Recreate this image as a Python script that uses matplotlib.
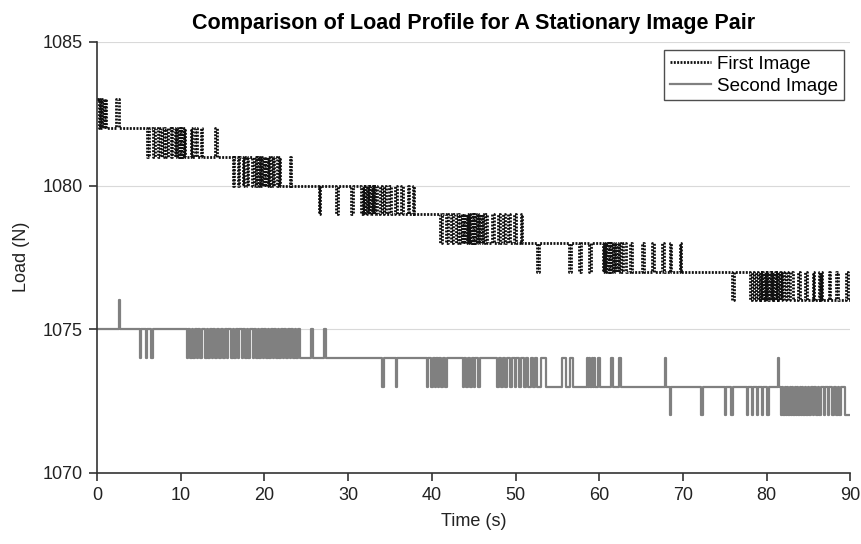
import matplotlib
matplotlib.use("Agg")
import matplotlib.pyplot as plt

# ---- Data: step change points (time in s, load in N) ----
first_t = [0, 0.2, 0.35, 0.5, 0.65, 0.8, 0.95, 1.1,
           2.3, 2.6,
           6.0, 6.25, 6.7, 6.95, 7.3, 7.5, 7.8, 8.0, 8.3, 8.5, 8.8, 9.0,
           9.3, 9.45, 9.6, 9.75, 9.9, 10.05, 10.2, 10.35, 10.5,
           11.2, 11.4, 11.7, 11.9, 12.4, 12.6, 14.1, 14.3,
           16.2, 16.4, 16.8, 17.0, 17.4, 17.6, 17.9, 18.1, 18.5, 18.7,
           19.0, 19.15, 19.3, 19.45, 19.6, 19.75, 19.9, 20.05, 20.2, 20.4,
           20.6, 20.8, 21.0, 21.2, 21.5, 21.7, 21.9,
           23.0, 23.2,
           26.5, 26.7, 28.6, 28.8, 30.4, 30.6,
           31.6, 31.75, 31.9, 32.05, 32.2, 32.35, 32.5, 32.65, 32.8, 32.95,
           33.1, 33.25, 33.4,
           33.8, 34.0, 34.3, 34.5, 34.9, 35.1, 35.6, 35.8, 36.3, 36.5,
           37.1, 37.3, 37.7, 37.9,
           41.0, 41.2, 41.7, 41.9, 42.3, 42.5, 42.9, 43.1, 43.4, 43.55,
           43.7, 43.85, 44.0, 44.15, 44.3, 44.45, 44.6, 44.75, 44.9, 45.05,
           45.2, 45.35, 45.5, 45.65, 45.8, 45.95, 46.1, 46.3, 46.6,
           47.2, 47.4, 47.9, 48.1, 48.5, 48.7, 49.1, 49.3, 49.8, 50.0,
           50.6, 50.8,
           52.6, 52.8, 56.4, 56.6, 57.6, 57.8, 58.8, 59.0,
           60.4, 60.55, 60.7, 60.85, 61.0, 61.15, 61.3, 61.45, 61.6, 61.75,
           61.9, 62.05, 62.2, 62.35, 62.6, 62.8, 63.2,
           63.7, 63.9, 65.1, 65.3, 66.3, 66.5, 67.5, 67.7, 68.4, 68.6,
           69.6, 69.8,
           75.9, 76.1,
           78.0, 78.2, 78.5, 78.7, 79.0, 79.15, 79.3, 79.45, 79.6, 79.75,
           79.9, 80.05, 80.2, 80.35, 80.5, 80.65, 80.8, 80.95, 81.1, 81.25,
           81.4, 81.55, 81.7, 81.85, 82.1, 82.3, 82.6, 82.8, 83.2,
           83.8, 84.0, 84.6, 84.8, 85.5, 85.7, 86.2, 86.35, 86.5, 86.65,
           87.4, 87.6, 88.3, 88.5, 89.5, 89.7, 90.0]
first_v = [1083, 1082, 1083, 1082, 1083, 1082, 1083, 1082,
           1083, 1082,
           1081, 1082, 1081, 1082, 1081, 1082, 1081, 1082, 1081, 1082, 1081, 1082,
           1081, 1082, 1081, 1082, 1081, 1082, 1081, 1082, 1081,
           1082, 1081, 1082, 1081, 1082, 1081, 1082, 1081,
           1080, 1081, 1080, 1081, 1080, 1081, 1080, 1081, 1080, 1081,
           1080, 1081, 1080, 1081, 1080, 1081, 1080, 1081, 1080, 1081,
           1080, 1081, 1080, 1081, 1080, 1081, 1080,
           1081, 1080,
           1079, 1080, 1079, 1080, 1079, 1080,
           1079, 1080, 1079, 1080, 1079, 1080, 1079, 1080, 1079, 1080,
           1079, 1080, 1079,
           1080, 1079, 1080, 1079, 1080, 1079, 1080, 1079, 1080, 1079,
           1080, 1079, 1080, 1079,
           1078, 1079, 1078, 1079, 1078, 1079, 1078, 1079, 1078, 1079,
           1078, 1079, 1078, 1079, 1078, 1079, 1078, 1079, 1078, 1079,
           1078, 1079, 1078, 1079, 1078, 1079, 1078, 1079, 1078,
           1079, 1078, 1079, 1078, 1079, 1078, 1079, 1078, 1079, 1078,
           1079, 1078,
           1077, 1078, 1077, 1078, 1077, 1078, 1077, 1078,
           1077, 1078, 1077, 1078, 1077, 1078, 1077, 1078, 1077, 1078,
           1077, 1078, 1077, 1078, 1077, 1078, 1077,
           1078, 1077, 1078, 1077, 1078, 1077, 1078, 1077, 1078, 1077,
           1078, 1077,
           1076, 1077,
           1076, 1077, 1076, 1077, 1076, 1077, 1076, 1077, 1076, 1077,
           1076, 1077, 1076, 1077, 1076, 1077, 1076, 1077, 1076, 1077,
           1076, 1077, 1076, 1077, 1076, 1077, 1076, 1077, 1076,
           1077, 1076, 1077, 1076, 1077, 1076, 1077, 1076, 1077, 1076,
           1077, 1076, 1077, 1076, 1077, 1076, 1076]

second_t = [0, 2.6, 2.8,
            5.1, 5.3, 5.8, 6.0, 6.5, 6.7,
            10.7, 10.9, 11.1, 11.3, 11.5, 11.7, 11.9, 12.1, 12.3, 12.5,
            12.9, 13.1, 13.3, 13.5, 13.7, 13.9, 14.1, 14.3, 14.6, 14.8,
            15.1, 15.3, 15.5, 15.7, 16.0, 16.2, 16.4, 16.6, 16.8, 17.0,
            17.3, 17.5, 17.7, 17.9, 18.1, 18.3, 18.6, 18.8, 19.0, 19.2,
            19.4, 19.6, 19.8, 20.0, 20.2, 20.4, 20.6, 20.8, 21.0, 21.2,
            21.4, 21.6, 21.8, 22.0, 22.2, 22.4, 22.6, 22.8, 23.0, 23.2,
            23.4, 23.6, 23.8, 24.0, 24.3,
            25.6, 25.8, 27.1, 27.3,
            34.1, 34.3, 35.7, 35.9,
            39.4, 39.6, 39.9, 40.1, 40.4, 40.55, 40.7, 40.85, 41.1, 41.3,
            41.6, 41.8,
            43.7, 43.9, 44.1, 44.3, 44.6, 44.8, 45.0, 45.2, 45.5, 45.7,
            47.8, 48.0, 48.3, 48.5, 48.8, 49.0, 49.3, 49.6, 49.9, 50.1,
            50.4, 50.7, 51.0, 51.2, 51.5, 51.8, 52.1, 52.3, 52.6,
            53.0, 53.6, 55.6, 56.0, 56.5, 56.9,
            58.5, 58.65, 58.8, 58.95, 59.1, 59.25, 59.4, 59.55, 59.9, 60.1,
            61.4, 61.6, 62.4, 62.6,
            67.8, 68.0, 68.4, 68.6,
            72.2, 72.4, 75.0, 75.2, 75.8, 76.0,
            77.6, 77.8, 78.2, 78.4, 78.8, 79.0, 79.4, 79.6, 80.1, 80.3,
            81.3, 81.5, 81.7, 81.85, 82.0, 82.15, 82.3, 82.45, 82.6, 82.75,
            82.9, 83.05, 83.2, 83.35, 83.5, 83.65, 83.8, 83.95, 84.1, 84.25,
            84.4, 84.55, 84.7, 84.9, 85.1, 85.3, 85.5, 85.7, 85.9, 86.1,
            86.3, 86.5, 86.8, 87.0, 87.3, 87.5, 87.8, 88.0, 88.3, 88.5,
            88.7, 88.9, 89.3, 89.5, 90.0]
second_v = [1075, 1076, 1075,
            1074, 1075, 1074, 1075, 1074, 1075,
            1074, 1075, 1074, 1075, 1074, 1075, 1074, 1075, 1074, 1075,
            1074, 1075, 1074, 1075, 1074, 1075, 1074, 1075, 1074, 1075,
            1074, 1075, 1074, 1075, 1074, 1075, 1074, 1075, 1074, 1075,
            1074, 1075, 1074, 1075, 1074, 1075, 1074, 1075, 1074, 1075,
            1074, 1075, 1074, 1075, 1074, 1075, 1074, 1075, 1074, 1075,
            1074, 1075, 1074, 1075, 1074, 1075, 1074, 1075, 1074, 1075,
            1074, 1075, 1074, 1075, 1074,
            1075, 1074, 1075, 1074,
            1073, 1074, 1073, 1074,
            1073, 1074, 1073, 1074, 1073, 1074, 1073, 1074, 1073, 1074,
            1073, 1074,
            1073, 1074, 1073, 1074, 1073, 1074, 1073, 1074, 1073, 1074,
            1073, 1074, 1073, 1074, 1073, 1074, 1073, 1074, 1073, 1074,
            1073, 1074, 1073, 1074, 1073, 1074, 1073, 1074, 1073,
            1074, 1073, 1074, 1073, 1074, 1073,
            1074, 1073, 1074, 1073, 1074, 1073, 1074, 1073, 1074, 1073,
            1074, 1073, 1074, 1073,
            1074, 1073, 1072, 1073,
            1072, 1073, 1072, 1073, 1072, 1073,
            1072, 1073, 1072, 1073, 1072, 1073, 1072, 1073, 1072, 1073,
            1074, 1073, 1072, 1073, 1072, 1073, 1072, 1073, 1072, 1073,
            1072, 1073, 1072, 1073, 1072, 1073, 1072, 1073, 1072, 1073,
            1072, 1073, 1072, 1073, 1072, 1073, 1072, 1073, 1072, 1073,
            1072, 1073, 1072, 1073, 1072, 1073, 1072, 1073, 1072, 1073,
            1072, 1073, 1072, 1072, 1072]

x_ticks = [0, 10, 20, 30, 40, 50, 60, 70, 80, 90]
y_ticks = [1070, 1075, 1080, 1085]

plt.rcParams['font.family'] = ['Liberation Sans', 'DejaVu Sans']

fig = plt.figure(figsize=(8.62, 5.44), dpi=100)
ax = fig.add_axes([0.1125, 0.131, 0.874, 0.792])

for y in y_ticks[1:]:
    ax.axhline(y, color='#d9d9d9', lw=0.8, zorder=0)

ax.step(first_t, first_v, where='post', color='#111111', lw=2.0,
        linestyle=(0, (0.7, 0.5)), label='First Image', zorder=3)
ax.step(second_t, second_v, where='post', color='#808080', lw=1.6,
        label='Second Image', zorder=2)

ax.set_xlim(0, 90)
ax.set_ylim(1070, 1085)
ax.set_xticks(x_ticks)
ax.set_yticks(y_ticks)
for s in ['top', 'right']:
    ax.spines[s].set_visible(False)
for s in ['left', 'bottom']:
    ax.spines[s].set_color('#333333')
    ax.spines[s].set_linewidth(1.2)
ax.tick_params(direction='out', length=6, width=1.2, color='#333333',
               labelsize=13, labelcolor='#222222', pad=4)

ax.set_xlabel('Time (s)', fontsize=13, color='#222222', labelpad=7)
ax.set_ylabel('Load (N)', fontsize=13, color='#222222', labelpad=9)
ax.set_title('Comparison of Load Profile for A Stationary Image Pair',
             fontsize=15.5, fontweight='bold', pad=9)

leg = ax.legend(loc='upper right', bbox_to_anchor=(0.996, 0.99), fontsize=13.5,
                frameon=True, fancybox=False, edgecolor='#222222',
                handlelength=2.2, handletextpad=0.3, borderpad=0.3,
                labelspacing=0.25, borderaxespad=0.2)
leg.get_frame().set_linewidth(1.0)

fig.savefig('out.png', dpi=100)
